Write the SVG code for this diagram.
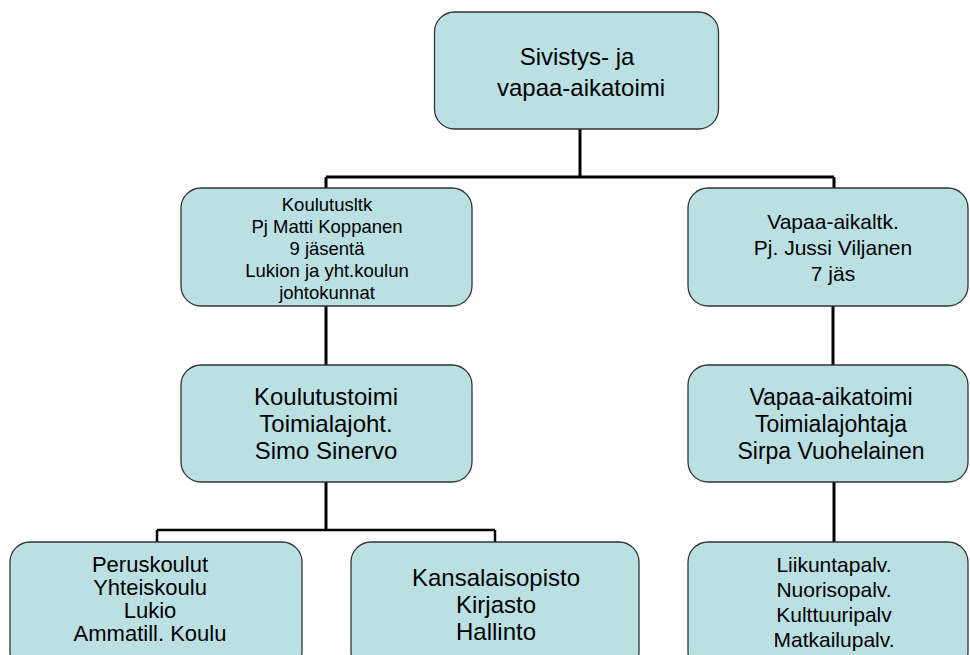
<svg xmlns="http://www.w3.org/2000/svg" width="970" height="655" viewBox="0 0 970 655">
<style>
.box{fill:#BBE0E3;stroke:#333;stroke-width:1.3}
.t{font-family:"Liberation Sans",Arial,sans-serif;fill:#000;text-anchor:middle}
.ln{stroke:#000;stroke-width:3;fill:none}
</style>
<rect width="970" height="655" fill="#fff"/>
<g id="connectors">
<path class="ln" d="M580,128 V177 M326,177 H834 M326,177 V189 M834,177 V189"/>
<path class="ln" d="M326,306 V366 M833,306 V366"/>
<path class="ln" d="M326,482 V530"/>
<path class="ln" style="stroke-width:2.5" d="M157,530 H495 M157,530 V542 M495,530 V542"/>
<path class="ln" d="M834,482 V542"/>
</g>
<g id="n-top">
<rect class="box" x="434.5" y="12" width="284" height="117" rx="20"/>
<text class="t" font-size="24"><tspan x="577" y="65">Sivistys- ja</tspan><tspan x="581" y="96">vapaa-aikatoimi</tspan></text>
</g>
<g id="n-koulutusltk">
<rect class="box" x="181" y="188" width="291" height="118" rx="20"/>
<text class="t" font-size="18.5"><tspan x="327" y="211">Koulutusltk</tspan><tspan x="327" y="233">Pj Matti Koppanen</tspan><tspan x="327" y="255">9 jäsentä</tspan><tspan x="327" y="277">Lukion ja yht.koulun</tspan><tspan x="327" y="299">johtokunnat</tspan></text>
</g>
<g id="n-vapaaltk">
<rect class="box" x="688" y="188" width="280" height="118" rx="20"/>
<text class="t" font-size="21"><tspan x="833" y="229">Vapaa-aikaltk.</tspan><tspan x="833" y="255">Pj. Jussi Viljanen</tspan><tspan x="833" y="281">7 jäs</tspan></text>
</g>
<g id="n-koulutustoimi">
<rect class="box" x="181" y="365" width="291" height="117" rx="20"/>
<text class="t" font-size="24"><tspan x="326" y="405">Koulutustoimi</tspan><tspan x="326" y="432">Toimialajoht.</tspan><tspan x="326" y="459">Simo Sinervo</tspan></text>
</g>
<g id="n-vapaatoimi">
<rect class="box" x="688" y="365" width="280" height="117" rx="20"/>
<text class="t" font-size="23"><tspan x="831" y="405">Vapaa-aikatoimi</tspan><tspan x="831" y="432">Toimialajohtaja</tspan><tspan x="831" y="459">Sirpa Vuohelainen</tspan></text>
</g>
<g id="n-peruskoulut">
<rect class="box" x="10" y="542" width="292" height="130" rx="20"/>
<text class="t" font-size="22"><tspan x="150" y="572">Peruskoulut</tspan><tspan x="150" y="595">Yhteiskoulu</tspan><tspan x="150" y="618">Lukio</tspan><tspan x="150" y="641">Ammatill. Koulu</tspan></text>
</g>
<g id="n-kansalaisopisto">
<rect class="box" x="351" y="542" width="288" height="130" rx="20"/>
<text class="t" font-size="24"><tspan x="496" y="586">Kansalaisopisto</tspan><tspan x="496" y="613">Kirjasto</tspan><tspan x="496" y="640">Hallinto</tspan></text>
</g>
<g id="n-liikunta">
<rect class="box" x="688" y="542" width="280" height="130" rx="20"/>
<text class="t" font-size="21"><tspan x="834" y="572">Liikuntapalv.</tspan><tspan x="834" y="597">Nuorisopalv.</tspan><tspan x="834" y="622">Kulttuuripalv</tspan><tspan x="834" y="647">Matkailupalv.</tspan></text>
</g>
</svg>
